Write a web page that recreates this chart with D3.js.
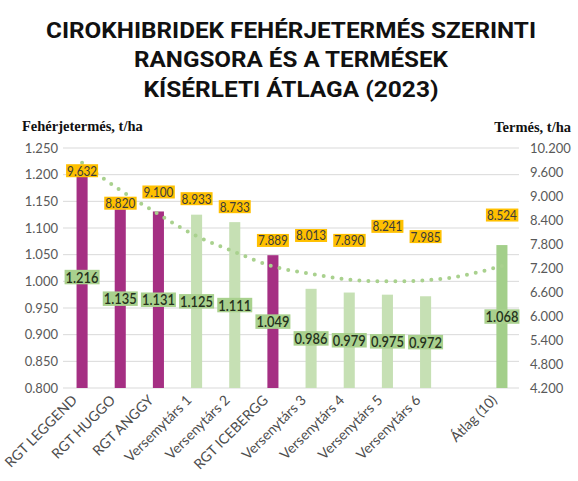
<!DOCTYPE html>
<html>
<head>
<meta charset="utf-8">
<script src="https://cdn.jsdelivr.net/npm/d3@7"></script>
<style>
  body { margin: 0; background: #fff; }
  svg { display: block; }
</style>
</head>
<body>
<svg width="578" height="481"></svg>
<script>
// chart data
var titleLines = ['CIROKHIBRIDEK FEHÉRJETERMÉS SZERINTI', 'RANGSORA ÉS A TERMÉSEK', 'KÍSÉRLETI ÁTLAGA (2023)'];
var categories = ['RGT LEGGEND', 'RGT HUGGO', 'RGT ANGGY', 'Versemytárs 1', 'Versenytárs 2', 'RGT ICEBERGG',
    'Versenytárs 3', 'Versenytárs 4', 'Versenytárs 5', 'Versenytárs 6', '', 'Átlag (10)'];
var groups = ['rgt', 'rgt', 'rgt', 'comp', 'comp', 'rgt', 'comp', 'comp', 'comp', 'comp', null, 'avg'];
var protein = [1.216, 1.135, 1.131, 1.125, 1.111, 1.049, 0.986, 0.979, 0.975, 0.972, null, 1.068];
var yieldValues = [9.632, 8.820, 9.100, 8.933, 8.733, 7.889, 8.013, 7.890, 8.241, 7.985, null, 8.524];
// polynomial trendline
var trend = [1.2225, 1.171, 1.126, 1.085, 1.055, 1.028, 1.014, 1.003, 1.000, 1.002, 1.011, 1.029];
var leftTicks = [0.8, 0.85, 0.9, 0.95, 1.0, 1.05, 1.1, 1.15, 1.2, 1.25];
var rightTicks = [4.2, 4.8, 5.4, 6.0, 6.6, 7.2, 7.8, 8.4, 9.0, 9.6, 10.2];

var svg = d3.select('svg');
var colors = {rgt: '#a52f83', comp: '#c6e0b4', avg: '#a3cf8a'};
var tickFont = 'Lato, "Open Sans", sans-serif';

// title, stretched to the widths of the original lines
var titleWidths = [490, 314, 295];
svg.append('g').selectAll('text')
    .data(titleLines)
    .enter().append('text')
    .attr('x', 291)
    .attr('y', function(d, i) { return 38 + i * 29.3; })
    .attr('text-anchor', 'middle')
    .attr('textLength', function(d, i) { return titleWidths[i]; })
    .attr('lengthAdjust', 'spacingAndGlyphs')
    .style('font-family', 'Roboto, sans-serif')
    .style('font-weight', 700)
    .style('font-size', '21.5px')
    .attr('fill', '#111')
    .text(function(d) { return d; });

// scales
var x = d3.scaleBand().domain(d3.range(categories.length)).range([63, 521]).paddingInner(0.71).paddingOuter(0.355);
var yL = d3.scaleLinear().domain([0.8, 1.25]).range([388, 148]);
var yR = d3.scaleLinear().domain([4.2, 10.2]).range([388, 148]);
var cx = function(i) { return x(i) + x.bandwidth() / 2; };

// gridlines
svg.append('g').selectAll('line')
    .data(leftTicks)
    .enter().append('line')
    .attr('x1', 63).attr('x2', 519)
    .attr('y1', function(d) { return yL(d); })
    .attr('y2', function(d) { return yL(d); })
    .attr('stroke', '#d9d9d9')
    .attr('stroke-width', 1);

// left axis
var leftAxis = svg.append('g')
    .attr('transform', 'translate(60,0)')
    .call(d3.axisLeft(yL).tickValues(leftTicks).tickSize(0).tickPadding(2)
        .tickFormat(function(d) { return d3.format('.3f')(d); }));
leftAxis.select('.domain').remove();
leftAxis.selectAll('text')
    .style('font-family', tickFont).style('font-size', '13px').attr('fill', '#595959');

// right axis
var rightAxis = svg.append('g')
    .attr('transform', 'translate(528,0)')
    .call(d3.axisRight(yR).tickValues(rightTicks).tickSize(0).tickPadding(2)
        .tickFormat(function(d) { return d3.format('.3f')(d); }));
rightAxis.select('.domain').remove();
rightAxis.selectAll('text')
    .style('font-family', tickFont).style('font-size', '13px').attr('fill', '#595959');

// axis titles
svg.append('text')
    .attr('x', 22).attr('y', 131)
    .style('font-family', '"Liberation Serif", serif')
    .style('font-weight', 700).style('font-size', '14.5px')
    .attr('fill', '#111')
    .text('Fehérjetermés, t/ha');
svg.append('text')
    .attr('x', 571).attr('y', 132)
    .attr('text-anchor', 'end')
    .style('font-family', '"Liberation Serif", serif')
    .style('font-weight', 700).style('font-size', '14.5px')
    .attr('fill', '#111')
    .text('Termés, t/ha');

// bars
var idx = d3.range(categories.length).filter(function(i) { return protein[i] != null; });
svg.append('g').selectAll('rect')
    .data(idx)
    .enter().append('rect')
    .attr('x', function(i) { return x(i); })
    .attr('width', x.bandwidth())
    .attr('y', function(i) { return yL(protein[i]); })
    .attr('height', function(i) { return yL(0.8) - yL(protein[i]); })
    .attr('fill', function(i) { return colors[groups[i]]; });

// dotted trendline
var trendLine = d3.line()
    .x(function(d, i) { return cx(i); })
    .y(function(d) { return yL(d); })
    .curve(d3.curveNatural);
svg.append('path')
    .attr('d', trendLine(trend))
    .attr('fill', 'none')
    .attr('stroke', '#a9d18e')
    .attr('stroke-width', 4)
    .attr('stroke-linecap', 'round')
    .attr('stroke-dasharray', '0 9');

// labels with boxes
function boxLabel(g, tx, ty, str, size, fill, textColor, weight, len) {
    var t = g.append('text')
        .attr('x', tx).attr('y', ty)
        .attr('text-anchor', 'middle')
        .attr('dominant-baseline', 'central')
        .style('font-family', tickFont)
        .style('font-size', size + 'px')
        .style('font-weight', weight)
        .attr('fill', textColor)
        .text(str);
    if (len) t.attr('textLength', len).attr('lengthAdjust', 'spacingAndGlyphs');
    var bb = t.node().getBBox();
    g.insert('rect', 'text')
        .attr('x', bb.x - 1).attr('width', bb.width + 2)
        .attr('y', ty - size * 0.5).attr('height', size * 1.0)
        .attr('fill', fill);
}
var fmt = d3.format('.3f');
idx.forEach(function(i) {
    var g1 = svg.append('g');
    boxLabel(g1, cx(i), (yL(0.8) + yL(protein[i])) / 2, fmt(protein[i]), 14.5, '#a9d18e', '#26331d', 600, 33);
    var g2 = svg.append('g');
    boxLabel(g2, cx(i), yR(yieldValues[i]), fmt(yieldValues[i]), 13, '#ffc000', '#3b3b3b', 400, 30);
});

// category labels
svg.append('g').selectAll('text')
    .data(d3.range(categories.length))
    .enter().append('text')
    .attr('transform', function(i) { return 'translate(' + [cx(i) - 4, 401] + ')rotate(-45)'; })
    .attr('text-anchor', 'end')
    .style('font-family', tickFont)
    .style('font-size', '14px')
    .attr('fill', '#4d4d4d')
    .text(function(i) { return categories[i]; });
</script>
</body>
</html>
